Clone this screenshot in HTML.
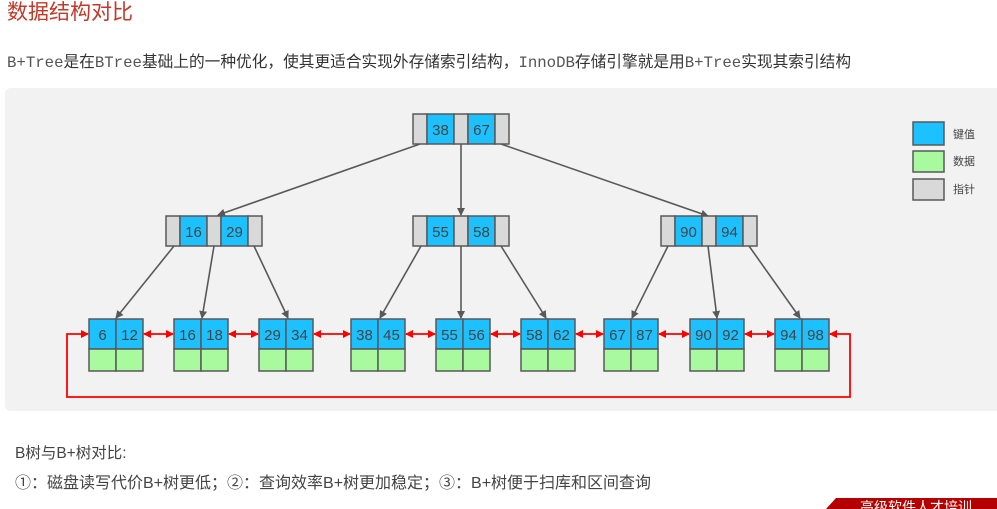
<!DOCTYPE html>
<html><head><meta charset="utf-8"><style>
body{margin:0;width:997px;height:509px;overflow:hidden;background:#fff;font-family:"Liberation Sans","Noto Sans CJK SC",sans-serif;position:relative}
.t{position:absolute;white-space:nowrap}
.mono{font-family:"Liberation Mono","Noto Sans CJK SC",monospace}
</style></head><body>
<div class="t" style="left:7px;top:-4px;font-size:21px;color:#c0392b">数据结构对比</div>
<div class="t" style="left:7px;top:49px;font-size:15.7px;color:#333"><span class="mono" style="color:#555">B+Tree</span>是在<span class="mono" style="color:#555">BTree</span>基础上的一种优化，使其更适合实现外存储索引结构，<span class="mono" style="color:#555">InnoDB</span>存储引擎就是用<span class="mono" style="color:#555">B+Tree</span>实现其索引结构</div>
<svg style="position:absolute;left:0;top:0" width="997" height="509" xmlns="http://www.w3.org/2000/svg">
<defs>
<marker id="ag" markerWidth="8" markerHeight="8" refX="7" refY="4" orient="auto" markerUnits="userSpaceOnUse"><path d="M0,0 L8,4 L0,8 z" fill="#595959"/></marker>
<marker id="ar" markerWidth="8" markerHeight="8" refX="7" refY="4" orient="auto" markerUnits="userSpaceOnUse"><path d="M0,0 L8,4 L0,8 z" fill="#f00"/></marker>
<marker id="ars" markerWidth="8" markerHeight="8" refX="1" refY="4" orient="auto" markerUnits="userSpaceOnUse"><path d="M8,0 L0,4 L8,8 z" fill="#f00"/></marker>
</defs>
<rect x="5" y="88" width="1000" height="323" rx="6" fill="#f2f2f2"/>
<g stroke="#595959" stroke-width="1.6" marker-end="url(#ag)" fill="none">
<line x1="420" y1="144" x2="218" y2="215"/><line x1="461" y1="144" x2="461" y2="215"/><line x1="501" y1="144" x2="708" y2="216"/>
<line x1="174" y1="246" x2="116" y2="318"/><line x1="214" y1="246" x2="202" y2="318"/><line x1="254" y1="246" x2="288" y2="318"/>
<line x1="421" y1="246" x2="380" y2="318"/><line x1="461" y1="246" x2="461" y2="318"/><line x1="501" y1="246" x2="546" y2="318"/>
<line x1="668" y1="246" x2="632" y2="318"/><line x1="708" y1="246" x2="717" y2="318"/><line x1="749" y1="246" x2="800" y2="318"/>
</g>
<g font-family="Liberation Sans,sans-serif" font-size="15" fill="#444" text-anchor="middle" stroke="#595959" stroke-width="1.5">
<g transform="translate(413,114)"><rect width="14" height="30" fill="#d9d9d9"/><rect x="14" width="27" height="30" fill="#1ec1ff"/><rect x="41" width="14" height="30" fill="#d9d9d9"/><rect x="55" width="27" height="30" fill="#1ec1ff"/><rect x="82" width="14" height="30" fill="#d9d9d9"/><text x="27.5" y="21" stroke="none">38</text><text x="68.5" y="21" stroke="none">67</text></g>
<g transform="translate(166,216)"><rect width="14" height="30" fill="#d9d9d9"/><rect x="14" width="27" height="30" fill="#1ec1ff"/><rect x="41" width="14" height="30" fill="#d9d9d9"/><rect x="55" width="27" height="30" fill="#1ec1ff"/><rect x="82" width="14" height="30" fill="#d9d9d9"/><text x="27.5" y="21" stroke="none">16</text><text x="68.5" y="21" stroke="none">29</text></g>
<g transform="translate(413,216)"><rect width="14" height="30" fill="#d9d9d9"/><rect x="14" width="27" height="30" fill="#1ec1ff"/><rect x="41" width="14" height="30" fill="#d9d9d9"/><rect x="55" width="27" height="30" fill="#1ec1ff"/><rect x="82" width="14" height="30" fill="#d9d9d9"/><text x="27.5" y="21" stroke="none">55</text><text x="68.5" y="21" stroke="none">58</text></g>
<g transform="translate(661,216)"><rect width="14" height="30" fill="#d9d9d9"/><rect x="14" width="27" height="30" fill="#1ec1ff"/><rect x="41" width="14" height="30" fill="#d9d9d9"/><rect x="55" width="27" height="30" fill="#1ec1ff"/><rect x="82" width="14" height="30" fill="#d9d9d9"/><text x="27.5" y="21" stroke="none">90</text><text x="68.5" y="21" stroke="none">94</text></g>
<g transform="translate(89,319)"><rect width="27" height="30" fill="#1ec1ff"/><rect x="27" width="27" height="30" fill="#1ec1ff"/><rect y="30" width="27" height="22" fill="#a9fa9e"/><rect x="27" y="30" width="27" height="22" fill="#a9fa9e"/><text x="13.5" y="21" stroke="none">6</text><text x="40.5" y="21" stroke="none">12</text></g>
<g transform="translate(174,319)"><rect width="27" height="30" fill="#1ec1ff"/><rect x="27" width="27" height="30" fill="#1ec1ff"/><rect y="30" width="27" height="22" fill="#a9fa9e"/><rect x="27" y="30" width="27" height="22" fill="#a9fa9e"/><text x="13.5" y="21" stroke="none">16</text><text x="40.5" y="21" stroke="none">18</text></g>
<g transform="translate(259,319)"><rect width="27" height="30" fill="#1ec1ff"/><rect x="27" width="27" height="30" fill="#1ec1ff"/><rect y="30" width="27" height="22" fill="#a9fa9e"/><rect x="27" y="30" width="27" height="22" fill="#a9fa9e"/><text x="13.5" y="21" stroke="none">29</text><text x="40.5" y="21" stroke="none">34</text></g>
<g transform="translate(351,319)"><rect width="27" height="30" fill="#1ec1ff"/><rect x="27" width="27" height="30" fill="#1ec1ff"/><rect y="30" width="27" height="22" fill="#a9fa9e"/><rect x="27" y="30" width="27" height="22" fill="#a9fa9e"/><text x="13.5" y="21" stroke="none">38</text><text x="40.5" y="21" stroke="none">45</text></g>
<g transform="translate(436,319)"><rect width="27" height="30" fill="#1ec1ff"/><rect x="27" width="27" height="30" fill="#1ec1ff"/><rect y="30" width="27" height="22" fill="#a9fa9e"/><rect x="27" y="30" width="27" height="22" fill="#a9fa9e"/><text x="13.5" y="21" stroke="none">55</text><text x="40.5" y="21" stroke="none">56</text></g>
<g transform="translate(521,319)"><rect width="27" height="30" fill="#1ec1ff"/><rect x="27" width="27" height="30" fill="#1ec1ff"/><rect y="30" width="27" height="22" fill="#a9fa9e"/><rect x="27" y="30" width="27" height="22" fill="#a9fa9e"/><text x="13.5" y="21" stroke="none">58</text><text x="40.5" y="21" stroke="none">62</text></g>
<g transform="translate(604,319)"><rect width="27" height="30" fill="#1ec1ff"/><rect x="27" width="27" height="30" fill="#1ec1ff"/><rect y="30" width="27" height="22" fill="#a9fa9e"/><rect x="27" y="30" width="27" height="22" fill="#a9fa9e"/><text x="13.5" y="21" stroke="none">67</text><text x="40.5" y="21" stroke="none">87</text></g>
<g transform="translate(690,319)"><rect width="27" height="30" fill="#1ec1ff"/><rect x="27" width="27" height="30" fill="#1ec1ff"/><rect y="30" width="27" height="22" fill="#a9fa9e"/><rect x="27" y="30" width="27" height="22" fill="#a9fa9e"/><text x="13.5" y="21" stroke="none">90</text><text x="40.5" y="21" stroke="none">92</text></g>
<g transform="translate(775,319)"><rect width="27" height="30" fill="#1ec1ff"/><rect x="27" width="27" height="30" fill="#1ec1ff"/><rect y="30" width="27" height="22" fill="#a9fa9e"/><rect x="27" y="30" width="27" height="22" fill="#a9fa9e"/><text x="13.5" y="21" stroke="none">94</text><text x="40.5" y="21" stroke="none">98</text></g>
<rect x="913" y="122" width="31" height="23" fill="#1ec1ff"/>
<rect x="913" y="151" width="31" height="21" fill="#a9fa9e"/>
<rect x="913" y="179" width="31" height="21" fill="#d9d9d9"/>
</g>
<g stroke="#f00" stroke-width="1.8" fill="none" marker-end="url(#ar)" marker-start="url(#ars)">
<line x1="144" y1="334" x2="173" y2="334"/><line x1="229" y1="334" x2="258" y2="334"/><line x1="314" y1="334" x2="350" y2="334"/>
<line x1="406" y1="334" x2="435" y2="334"/><line x1="491" y1="334" x2="520" y2="334"/><line x1="576" y1="334" x2="603" y2="334"/>
<line x1="659" y1="334" x2="689" y2="334"/><line x1="745" y1="334" x2="774" y2="334"/>
</g>
<path d="M830,334 L850,334 L850,397 L67,397 L67,334 L88,334" stroke="#f00" stroke-width="1.8" fill="none" marker-end="url(#ar)" marker-start="url(#ars)"/>
<g font-family="Liberation Sans,Noto Sans CJK SC,sans-serif" font-size="11" fill="#444">
<text x="953" y="138">键值</text><text x="953" y="165">数据</text><text x="953" y="193">指针</text>
</g>
<path d="M826,509 L836,498 L997,498 L997,509 z" fill="#b50000"/>
</svg>
<div class="t" style="left:15px;top:441px;font-size:15.5px;color:#444">B树与B+树对比:</div>
<div class="t" style="left:15px;top:469px;font-size:16px;color:#444">①：磁盘读写代价B+树更低；②：查询效率B+树更加稳定；③：B+树便于扫库和区间查询</div>
<div class="t" style="left:860px;top:496px;font-size:14px;color:#fff;height:13px;overflow:hidden;line-height:22px">高级软件人才培训</div>
</body></html>
